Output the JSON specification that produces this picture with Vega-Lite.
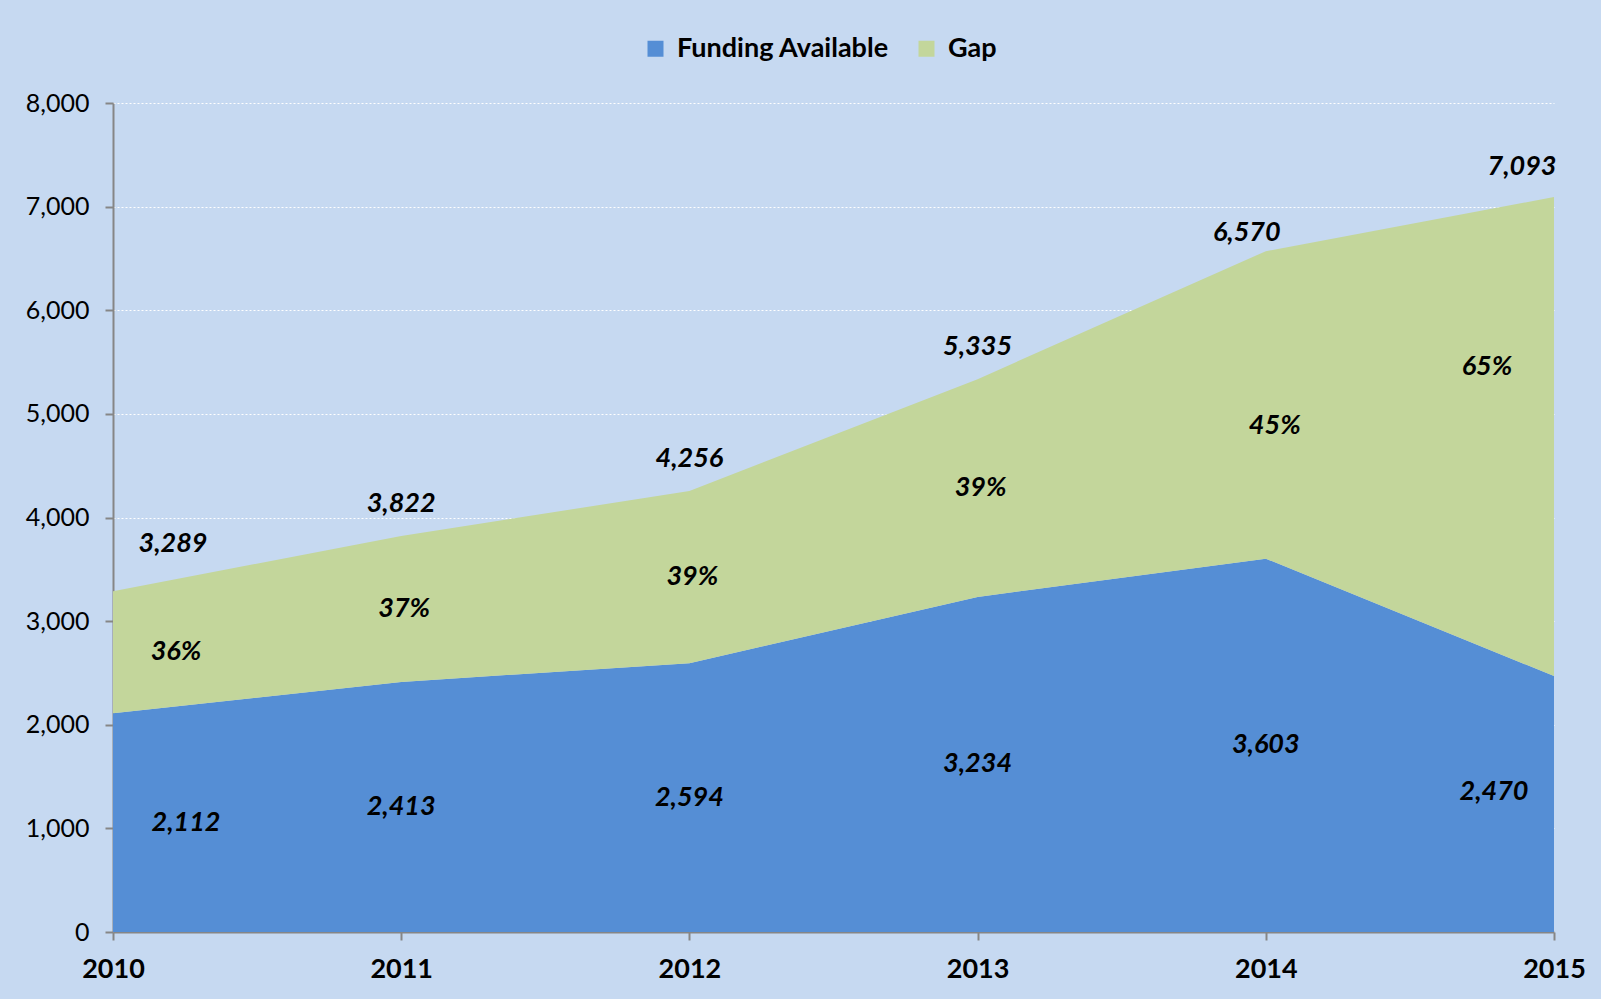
{
  "$schema": "https://vega.github.io/schema/vega-lite/v6.json",
  "autosize": "none",
  "width": 1441,
  "height": 829,
  "padding": {"left": 113, "top": 103, "right": 47, "bottom": 67},
  "background": "#C6D9F1",
  "config": {"view": {"stroke": null}, "font": "Lato"},
  "datasets": {
    "series": [
      {"year": 2010, "series": "Funding Available", "value": 2112},
      {"year": 2011, "series": "Funding Available", "value": 2413},
      {"year": 2012, "series": "Funding Available", "value": 2594},
      {"year": 2013, "series": "Funding Available", "value": 3234},
      {"year": 2014, "series": "Funding Available", "value": 3603},
      {"year": 2015, "series": "Funding Available", "value": 2470},
      {"year": 2010, "series": "Gap", "value": 1177},
      {"year": 2011, "series": "Gap", "value": 1409},
      {"year": 2012, "series": "Gap", "value": 1662},
      {"year": 2013, "series": "Gap", "value": 2101},
      {"year": 2014, "series": "Gap", "value": 2967},
      {"year": 2015, "series": "Gap", "value": 4623}
    ],
    "labels": [
      {"year": 2010, "funding": 2112, "total": 3289, "pct": "36%"},
      {"year": 2011, "funding": 2413, "total": 3822, "pct": "37%"},
      {"year": 2012, "funding": 2594, "total": 4256, "pct": "39%"},
      {"year": 2013, "funding": 3234, "total": 5335, "pct": "39%"},
      {"year": 2014, "funding": 3603, "total": 6570, "pct": "45%"},
      {"year": 2015, "funding": 2470, "total": 7093, "pct": "65%"}
    ]
  },
  "resolve": {"scale": {"y": "independent"}},
  "layer": [
    {
      "data": {"name": "series"},
      "mark": {"type": "area", "opacity": 1},
      "encoding": {
        "x": {"field": "year", "type": "quantitative", "scale": {"domain": [2010, 2015], "nice": false, "zero": false},
          "axis": {"title": null, "values": [2010, 2011, 2012, 2013, 2014, 2015], "format": "d", "labelFlush": false,
            "labelFontSize": 27, "labelFontWeight": "bold", "labelColor": "#000000", "labelPadding": 16,
            "domainColor": "#868686", "domainWidth": 2, "tickColor": "#868686", "tickWidth": 2, "tickSize": 8, "grid": false}},
        "y": {"field": "value", "type": "quantitative", "stack": "zero", "scale": {"domain": [0, 8000], "nice": false},
          "axis": {"title": null, "values": [0, 1000, 2000, 3000, 4000, 5000, 6000, 7000, 8000], "format": ",.0f",
            "labelFontSize": 25, "labelColor": "#000000", "labelPadding": 16,
            "domainColor": "#868686", "domainWidth": 2, "tickColor": "#868686", "tickWidth": 2, "tickSize": 8,
            "grid": true, "gridColor": "#FFFFFF", "gridDash": [2, 2], "gridWidth": 1}},
        "color": {"field": "series", "type": "nominal",
          "scale": {"domain": ["Funding Available", "Gap"], "range": ["#558ED5", "#C3D69B"]},
          "legend": {"title": null, "orient": "none", "legendX": 529, "legendY": -68, "direction": "horizontal",
            "symbolType": "square", "symbolSize": 256, "symbolOpacity": 1, "symbolStrokeWidth": 0,
            "labelFontSize": 27, "labelFontWeight": "bold", "labelColor": "#000000", "labelOffset": 8, "labelLimit": 400, "columnPadding": 24}},
        "order": {"field": "series", "sort": "ascending"}
      }
    },
    {
      "data": {"name": "labels"},
      "transform": [{"filter": {"field": "year", "oneOf": [2011, 2012, 2013]}}],
      "mark": {"type": "text", "fontSize": 27, "fontWeight": "bold", "fontStyle": "italic", "color": "#000000", "dy": -32},
      "encoding": {
        "x": {"field": "year", "type": "quantitative"},
        "y": {"field": "total", "type": "quantitative", "scale": {"domain": [0, 8000], "nice": false}, "axis": null},
        "text": {"field": "total", "type": "quantitative", "format": ","}
      }
    },
    {
      "data": {"name": "labels"},
      "transform": [{"filter": {"field": "year", "equal": 2014}}],
      "mark": {"type": "text", "fontSize": 27, "fontWeight": "bold", "fontStyle": "italic", "color": "#000000", "dx": -19, "dy": -18},
      "encoding": {
        "x": {"field": "year", "type": "quantitative"},
        "y": {"field": "total", "type": "quantitative", "scale": {"domain": [0, 8000], "nice": false}, "axis": null},
        "text": {"field": "total", "type": "quantitative", "format": ","}
      }
    },
    {
      "data": {"name": "labels"},
      "transform": [{"filter": {"field": "year", "equal": 2010}}],
      "mark": {"type": "text", "fontSize": 27, "fontWeight": "bold", "fontStyle": "italic", "color": "#000000", "dx": 60, "dy": -47},
      "encoding": {
        "x": {"field": "year", "type": "quantitative"},
        "y": {"field": "total", "type": "quantitative", "scale": {"domain": [0, 8000], "nice": false}, "axis": null},
        "text": {"field": "total", "type": "quantitative", "format": ","}
      }
    },
    {
      "data": {"name": "labels"},
      "transform": [{"filter": {"field": "year", "equal": 2015}}],
      "mark": {"type": "text", "fontSize": 27, "fontWeight": "bold", "fontStyle": "italic", "color": "#000000", "dx": -32, "dy": -30},
      "encoding": {
        "x": {"field": "year", "type": "quantitative"},
        "y": {"field": "total", "type": "quantitative", "scale": {"domain": [0, 8000], "nice": false}, "axis": null},
        "text": {"field": "total", "type": "quantitative", "format": ","}
      }
    },
    {
      "data": {"name": "labels"},
      "transform": [{"filter": {"field": "year", "oneOf": [2011, 2012, 2013, 2014]}}],
      "mark": {"type": "text", "fontSize": 27, "fontWeight": "bold", "fontStyle": "italic", "color": "#000000"},
      "encoding": {
        "x": {"field": "year", "type": "quantitative"},
        "y": {"field": "funding", "type": "quantitative", "scale": {"domain": [0, 16000], "nice": false}, "axis": null},
        "text": {"field": "funding", "type": "quantitative", "format": ","}
      }
    },
    {
      "data": {"name": "labels"},
      "transform": [{"filter": {"field": "year", "equal": 2010}}],
      "mark": {"type": "text", "fontSize": 27, "fontWeight": "bold", "fontStyle": "italic", "color": "#000000", "dx": 73},
      "encoding": {
        "x": {"field": "year", "type": "quantitative"},
        "y": {"field": "funding", "type": "quantitative", "scale": {"domain": [0, 16000], "nice": false}, "axis": null},
        "text": {"field": "funding", "type": "quantitative", "format": ","}
      }
    },
    {
      "data": {"name": "labels"},
      "transform": [{"filter": {"field": "year", "equal": 2015}}],
      "mark": {"type": "text", "fontSize": 27, "fontWeight": "bold", "fontStyle": "italic", "color": "#000000", "dx": -60, "dy": -12},
      "encoding": {
        "x": {"field": "year", "type": "quantitative"},
        "y": {"field": "funding", "type": "quantitative", "scale": {"domain": [0, 16000], "nice": false}, "axis": null},
        "text": {"field": "funding", "type": "quantitative", "format": ","}
      }
    },
    {
      "data": {"name": "labels"},
      "transform": [{"filter": {"field": "year", "oneOf": [2011, 2012, 2013]}}, {"fold": ["funding", "total"]}],
      "mark": {"type": "text", "fontSize": 27, "fontWeight": "bold", "fontStyle": "italic", "color": "#000000", "dx": 3},
      "encoding": {
        "x": {"field": "year", "type": "quantitative"},
        "y": {"field": "value", "aggregate": "mean", "type": "quantitative", "scale": {"domain": [0, 8000], "nice": false}, "axis": null},
        "text": {"field": "pct", "type": "nominal"}
      }
    },
    {
      "data": {"name": "labels"},
      "transform": [{"filter": {"field": "year", "equal": 2014}}, {"fold": ["funding", "total"]}],
      "mark": {"type": "text", "fontSize": 27, "fontWeight": "bold", "fontStyle": "italic", "color": "#000000", "dx": 9, "dy": 21},
      "encoding": {
        "x": {"field": "year", "type": "quantitative"},
        "y": {"field": "value", "aggregate": "mean", "type": "quantitative", "scale": {"domain": [0, 8000], "nice": false}, "axis": null},
        "text": {"field": "pct", "type": "nominal"}
      }
    },
    {
      "data": {"name": "labels"},
      "transform": [{"filter": {"field": "year", "equal": 2010}}, {"fold": ["funding", "total"]}],
      "mark": {"type": "text", "fontSize": 27, "fontWeight": "bold", "fontStyle": "italic", "color": "#000000", "dx": 63},
      "encoding": {
        "x": {"field": "year", "type": "quantitative"},
        "y": {"field": "value", "aggregate": "mean", "type": "quantitative", "scale": {"domain": [0, 8000], "nice": false}, "axis": null},
        "text": {"field": "pct", "type": "nominal"}
      }
    },
    {
      "data": {"name": "labels"},
      "transform": [{"filter": {"field": "year", "equal": 2015}}, {"fold": ["funding", "total"]}],
      "mark": {"type": "text", "fontSize": 27, "fontWeight": "bold", "fontStyle": "italic", "color": "#000000", "dx": -67, "dy": -70},
      "encoding": {
        "x": {"field": "year", "type": "quantitative"},
        "y": {"field": "value", "aggregate": "mean", "type": "quantitative", "scale": {"domain": [0, 8000], "nice": false}, "axis": null},
        "text": {"field": "pct", "type": "nominal"}
      }
    }
  ]
}
